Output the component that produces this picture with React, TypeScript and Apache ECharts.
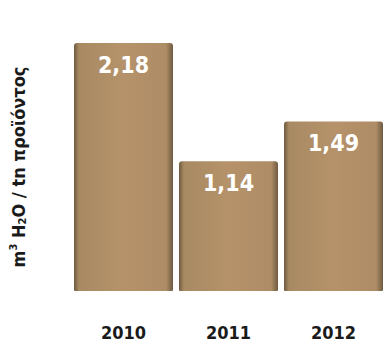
import React, { useEffect, useRef } from "react";
import * as echarts from "echarts";

const categories = ["2010", "2011", "2012"];
const values = [2.18, 1.14, 1.49];
const valueLabels = ["2,18", "1,14", "1,49"];

const FONT = "'DejaVu Sans Condensed', 'Liberation Sans Narrow', 'Open Sans', sans-serif";

export default function App() {
  const ref = useRef<HTMLDivElement>(null);
  useEffect(() => {
    if (!ref.current) return;
    const chart = echarts.init(ref.current, null, { renderer: "svg" });
    const barColor = new echarts.graphic.LinearGradient(0, 0, 1, 0, [
      { offset: 0, color: "#6e5a40" },
      { offset: 0.05, color: "#a88a62" },
      { offset: 0.5, color: "#b5926a" },
      { offset: 0.93, color: "#ae8c65" },
      { offset: 1, color: "#6f5b42" },
    ]);
    chart.setOption({
      animation: false,
      backgroundColor: "#ffffff",
      grid: { left: 64, width: 326, top: 43, bottom: 39, containLabel: false },
      xAxis: {
        type: "category",
        data: categories,
        axisLine: { show: false },
        axisTick: { show: false },
        axisLabel: {
          margin: 32,
          color: "#1a1a1a",
          fontSize: 18,
          fontWeight: "bold",
          fontFamily: FONT,
        },
      },
      yAxis: {
        type: "value",
        min: 0,
        max: 2.18,
        axisLine: { show: false },
        axisTick: { show: false },
        axisLabel: { show: false },
        splitLine: { show: false },
        name: "{a|m}{sup|3}{a| H}{sub|2}{a|O / tn προϊόντος}",
        nameLocation: "middle",
        nameRotate: 90,
        nameGap: 42,
        nameTextStyle: {
          rich: {
            a: { fontSize: 18, fontWeight: "bold", fontFamily: FONT, color: "#1a1a1a" },
            sup: { fontSize: 11, fontWeight: "bold", fontFamily: FONT, color: "#1a1a1a", padding: [0, 0, 10, 0] },
            sub: { fontSize: 11, fontWeight: "bold", fontFamily: FONT, color: "#1a1a1a", padding: [8, 0, 0, 0] },
          },
        },
      },
      series: [
        {
          type: "bar",
          data: values,
          barWidth: 99,
          itemStyle: { color: barColor, borderRadius: [3, 3, 1, 1] },
          label: {
            show: true,
            position: "insideTop",
            distance: 10,
            color: "#ffffff",
            fontSize: 23,
            fontWeight: "bold",
            fontFamily: FONT,
            formatter: (p: any) => valueLabels[p.dataIndex],
          },
        },
      ],
    });
    return () => chart.dispose();
  }, []);
  return (
    <div
      ref={ref}
      style={{ position: "fixed", left: 0, top: 0, width: 386, height: 341 }}
    />
  );
}
